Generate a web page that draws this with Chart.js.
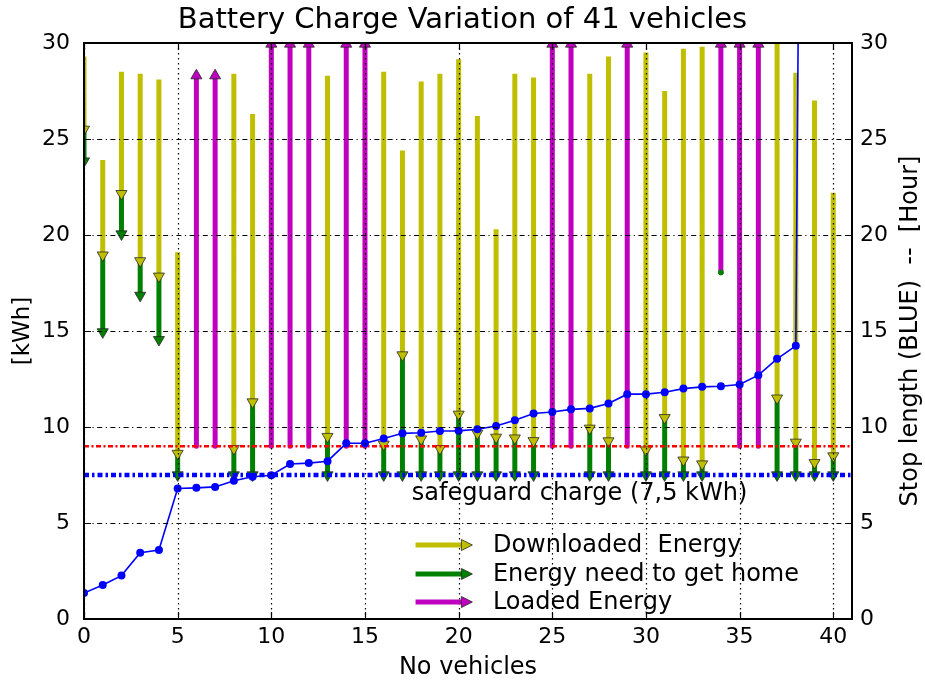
<!DOCTYPE html>
<html>
<head>
<meta charset="utf-8">
<script src="https://cdn.jsdelivr.net/npm/chart.js@4.4.0/dist/chart.umd.min.js"></script>
<style>
  html, body { margin: 0; padding: 0; background: #fff; }
</style>
</head>
<body>
<canvas id="graficoBateria" width="925" height="682"></canvas>
<script>
// dados
const vehicles = [0, 1, 2, 3, 4, 5, 6, 7, 8, 9, 10, 11, 12, 13, 14, 15, 16, 17, 18, 19, 20,
                  21, 22, 23, 24, 25, 26, 27, 28, 29, 30, 31, 32, 33, 34, 35, 36, 37, 38, 39, 40];
const downloadedFrom = [29.3, 23.9, 28.5, 28.4, 28.1, 19.1, null, null, 28.4, 26.3, null, null, null, 28.3, null, null,
                        28.5, 24.4, 28.0, 28.4, 29.15, 26.2, 20.3, 28.4, 28.2, null, null, 28.4, 29.3, null,
                        29.5, 27.5, 29.7, 29.8, null, null, null, 31, 28.45, 27.0, 22.2];
const downloadedTo = [25.5, 18.95, 22.15, 18.65, 17.85, 8.62, null, null, 8.87, 11.3, null, null, null, 9.5, null, null,
                      9.1, 13.75, 9.37, 8.87, 10.66, 9.67, 9.46, 9.42, 9.28, null, null, 9.93, 9.27, null,
                      8.8, 10.48, 8.27, 8.07, null, null, null, 11.5, 9.2, 8.14, 8.49];
const needFrom = [25.5, 18.95, 22.15, 18.65, 17.85, 8.62, null, null, 8.87, 11.3, null, null, null, 9.5, null, null,
                  9.1, 13.75, 9.37, 8.87, 10.66, 9.67, 9.46, 9.42, 9.28, null, null, 9.93, 9.27, null,
                  8.8, 10.48, 8.27, 8.07, 18.05, null, null, 11.5, 9.2, 8.14, 8.49];
const needTo = [23.85, 14.95, 20.05, 16.85, 14.55, 7.5, null, null, 7.5, 7.5, null, null, null, 7.5, null, null,
                7.5, 7.5, 7.5, 7.5, 7.5, 7.5, 7.5, 7.5, 7.5, null, null, 7.5, 7.5, null,
                7.5, 7.5, 7.5, 7.5, 18.05, null, null, 7.5, 7.5, 7.5, 7.5];
const loadedFrom = [null, null, null, null, null, null, 9, 9, null, null, 9, 9, 9, null, 9, 9,
                    null, null, null, null, null, null, null, null, null, 9, 9, null, null, 9,
                    null, null, null, null, 18.05, 9, 9, null, null, null, null];
const loadedTo = [null, null, null, null, null, null, 28.3, 28.3, null, null, 29.95, 29.95, 29.95, null, 29.95, 29.95,
                  null, null, null, null, null, null, null, null, null, 29.95, 29.95, null, null, 29.95,
                  null, null, null, null, 29.95, 29.95, 29.95, null, null, null, null];
const stopLength = [1.35, 1.77, 2.26, 3.45, 3.59, 6.8, 6.83, 6.88, 7.2, 7.41, 7.49, 8.07, 8.12, 8.22, 9.15, 9.15,
                    9.4, 9.67, 9.7, 9.79, 9.8, 9.88, 10.05, 10.35, 10.7, 10.78, 10.92, 10.97, 11.22, 11.71,
                    11.71, 11.81, 12.0, 12.09, 12.12, 12.21, 12.7, 13.55, 14.23, 143, 160];
const vehicleTicks = [0, 5, 10, 15, 20, 25, 30, 35, 40];
const kwhTicks = [0, 5, 10, 15, 20, 25, 30];
const loadedLevel = 9;
const safeguardLevel = 7.5;
const legendLabels = ['Downloaded  Energy', 'Energy need to get home', 'Loaded Energy'];

const AMARELO = '#bfbf00';
const VERDE = '#008000';
const MAGENTA = '#bf00bf';
const AZUL = '#0000ff';

Chart.defaults.font.family = '"DejaVu Sans", sans-serif';
Chart.defaults.color = '#000';

// cada seta vira um segmento: inicio, fim (com cabeca) e um ponto nulo para quebrar a linha
function segmentos(de, ate) {
    const pts = [];
    vehicles.forEach((v, i) => {
        if (de[i] == null) return;
        pts.push({ x: v, y: de[i] });
        pts.push({ x: v, y: ate[i], head: true, flat: de[i] === ate[i] });
        pts.push({ x: v, y: null });
    });
    return pts;
}

function seta(label, cor, dados, rot, ordem, cap) {
    return {
        label: label,
        data: dados,
        borderColor: cor,
        backgroundColor: cor,
        borderWidth: 5,
        borderCapStyle: cap,
        spanGaps: false,
        tension: 0,
        order: ordem,
        clip: 0,
        pointStyle: c => (c.raw && c.raw.flat) ? 'circle' : 'triangle',
        pointRadius: c => (c.raw && c.raw.head) ? (c.raw.flat ? 2.5 : 6.4) : 0,
        pointRotation: rot,
        pointBackgroundColor: cor,
        pointBorderColor: c => (c.raw && c.raw.flat) ? cor : 'rgba(40,40,40,0.8)',
        pointBorderWidth: 1
    };
}

const overlay = {
    id: 'overlay',
    afterDatasetsDraw(chart) {
        const { ctx, chartArea: a, scales } = chart;
        ctx.save();
        ctx.beginPath();
        ctx.rect(a.left, a.top, a.width, a.height);
        ctx.clip();
        ctx.strokeStyle = '#000';
        ctx.lineWidth = 1.2;
        ctx.setLineDash([1.5, 3.5]);
        vehicleTicks.forEach(v => {
            const px = Math.round(scales.x.getPixelForValue(v)) + 0.5;
            ctx.beginPath(); ctx.moveTo(px, a.top); ctx.lineTo(px, a.bottom); ctx.stroke();
        });
        ctx.lineWidth = 1;
        ctx.setLineDash([5, 3.5, 1.2, 3.5]);
        kwhTicks.forEach(v => {
            const py = Math.round(scales.y.getPixelForValue(v)) + 0.5;
            ctx.beginPath(); ctx.moveTo(a.left, py); ctx.lineTo(a.right, py); ctx.stroke();
        });
        ctx.restore();

        ctx.save();
        ctx.strokeStyle = '#000';
        ctx.lineWidth = 2;
        ctx.setLineDash([]);
        ctx.strokeRect(a.left, a.top, a.width, a.height);
        ctx.lineWidth = 1.2;
        const t = 7;
        vehicleTicks.forEach(v => {
            const px = Math.round(scales.x.getPixelForValue(v)) + 0.5;
            ctx.beginPath();
            ctx.moveTo(px, a.bottom); ctx.lineTo(px, a.bottom - t);
            ctx.moveTo(px, a.top); ctx.lineTo(px, a.top + t);
            ctx.stroke();
        });
        kwhTicks.forEach(v => {
            const py = Math.round(scales.y.getPixelForValue(v)) + 0.5;
            ctx.beginPath();
            ctx.moveTo(a.left, py); ctx.lineTo(a.left + t, py);
            ctx.moveTo(a.right, py); ctx.lineTo(a.right - t, py);
            ctx.stroke();
        });
        ctx.restore();
    },
    afterDraw(chart) {
        const { ctx, chartArea: a, scales } = chart;
        const sx = scales.x, sy = scales.y;
        ctx.save();
        ctx.fillStyle = '#000';
        ctx.font = '24px "DejaVu Sans"';
        ctx.textBaseline = 'alphabetic';
        ctx.textAlign = 'left';
        ctx.fillText('safeguard charge (7,5 kWh)', sx.getPixelForValue(17.5), sy.getPixelForValue(6.2));

        // legenda com setas
        const cores = [AMARELO, VERDE, MAGENTA];
        const linhas = [3.85, 2.34, 0.89];
        const x0 = sx.getPixelForValue(17.7);
        const x1 = sx.getPixelForValue(20.2);
        const xt = sx.getPixelForValue(21.83);
        cores.forEach((cor, i) => {
            const y = Math.round(sy.getPixelForValue(linhas[i]));
            ctx.strokeStyle = cor;
            ctx.lineWidth = 5;
            ctx.beginPath(); ctx.moveTo(x0, y); ctx.lineTo(x1, y); ctx.stroke();
            ctx.fillStyle = cor;
            ctx.strokeStyle = 'rgba(40,40,40,0.8)';
            ctx.lineWidth = 1;
            ctx.beginPath();
            ctx.moveTo(x1 - 1, y - 5.5); ctx.lineTo(x1 + 10, y); ctx.lineTo(x1 - 1, y + 5.5); ctx.closePath();
            ctx.fill(); ctx.stroke();
            ctx.fillStyle = '#000';
            ctx.fillText(legendLabels[i], xt, y + 7);
        });

        // titulo do eixo direito, lido de baixo para cima
        ctx.translate(911, (a.top + a.bottom) / 2);
        ctx.rotate(-Math.PI / 2);
        ctx.textAlign = 'center';
        ctx.textBaseline = 'middle';
        ctx.font = '24px "DejaVu Sans"';
        ctx.fillText('Stop length (BLUE)  --  [Hour]', 0, 0);
        ctx.restore();
    }
};

const ctx = document.getElementById('graficoBateria');
new Chart(ctx.getContext('2d'), {
    type: 'line',
    data: {
        datasets: [
            {
                label: 'Stop length',
                data: vehicles.map((v, i) => ({ x: v, y: stopLength[i] })),
                yAxisID: 'y2',
                borderColor: AZUL,
                backgroundColor: AZUL,
                borderWidth: 1.6,
                pointRadius: 4,
                pointBorderWidth: 0,
                pointBackgroundColor: AZUL,
                tension: 0,
                order: 0
            },
            {
                label: 'safeguard',
                data: [{ x: 0, y: safeguardLevel }, { x: 41, y: safeguardLevel }],
                borderColor: AZUL,
                borderWidth: 4.5,
                borderDash: [5, 3, 2.5, 3],
                pointRadius: 0,
                order: 1
            },
            {
                label: 'loaded level',
                data: [{ x: 0, y: loadedLevel }, { x: 41, y: loadedLevel }],
                borderColor: '#ff0000',
                borderWidth: 2.5,
                borderDash: [5, 2.5, 2, 2.5],
                pointRadius: 0,
                order: 2
            },
            seta(legendLabels[0], AMARELO, segmentos(downloadedFrom, downloadedTo), 180, 3, 'butt'),
            seta(legendLabels[1], VERDE, segmentos(needFrom, needTo), 180, 4, 'butt'),
            seta(legendLabels[2], MAGENTA, segmentos(loadedFrom, loadedTo), 0, 5, 'round')
        ]
    },
    options: {
        responsive: false,
        animation: false,
        layout: { padding: 0 },
        plugins: {
            legend: { display: false },
            tooltip: { enabled: false },
            title: {
                display: true,
                text: 'Battery Charge Variation of 41 vehicles',
                font: { size: 29, weight: 'normal' },
                color: '#000',
                padding: { top: 3, bottom: 5.2 }
            }
        },
        scales: {
            x: {
                type: 'linear',
                min: 0,
                max: 41,
                afterBuildTicks: s => { s.ticks = vehicleTicks.map(v => ({ value: v })); },
                afterFit: s => { s.height = 63; },
                grid: { display: false, drawTicks: false },
                border: { display: false },
                ticks: { font: { size: 22 }, padding: 5, maxRotation: 0 },
                title: { display: true, text: 'No vehicles', font: { size: 24 }, padding: { top: 0, bottom: 0 } }
            },
            y: {
                position: 'left',
                min: 0,
                max: 30,
                afterBuildTicks: s => { s.ticks = kwhTicks.map(v => ({ value: v })); },
                afterFit: s => { s.width = 84; },
                grid: { display: false, drawTicks: false },
                border: { display: false },
                ticks: { font: { size: 22 }, padding: 14 },
                title: { display: true, text: '[kWh]', font: { size: 23 }, padding: { top: 9, bottom: 0 } }
            },
            y2: {
                position: 'right',
                min: 0,
                max: 30,
                afterBuildTicks: s => { s.ticks = kwhTicks.map(v => ({ value: v })); },
                afterFit: s => { s.width = 73; },
                grid: { display: false, drawTicks: false },
                border: { display: false },
                ticks: { font: { size: 22 }, padding: 8 }
            }
        }
    },
    plugins: [overlay]
});
</script>
</body>
</html>
